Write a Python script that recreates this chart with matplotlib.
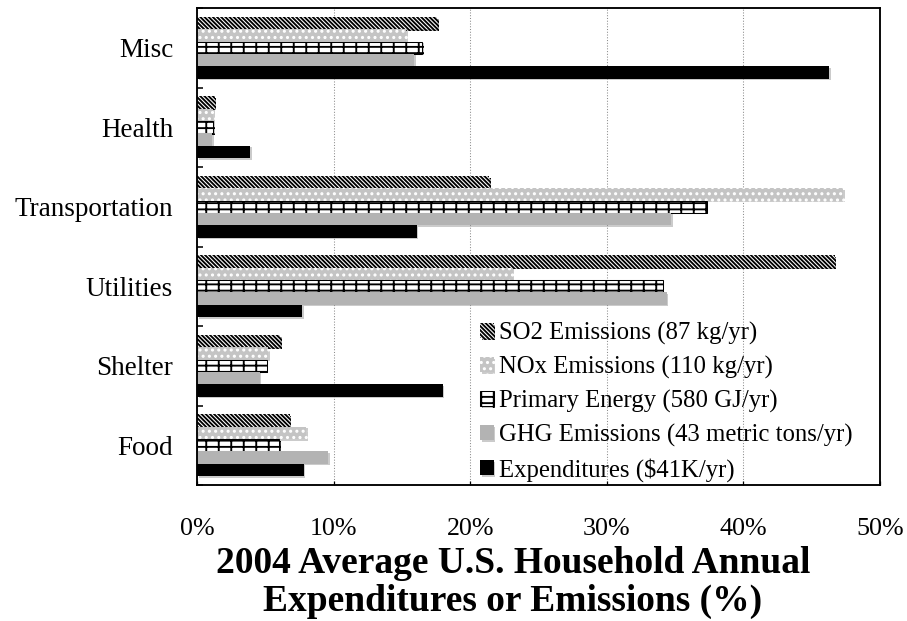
import numpy as np
import matplotlib
matplotlib.use('Agg')
import matplotlib.pyplot as plt
import matplotlib.patheffects as pe

plt.rcParams['font.family'] = 'Liberation Serif'
plt.rcParams['hatch.linewidth'] = 1.8

# categories listed bottom to top
categories = ['Food', 'Shelter', 'Utilities', 'Transportation', 'Health', 'Misc']
so2 = [6.8, 6.1, 46.7, 21.4, 1.3, 17.6]
nox = [8.0, 5.2, 23.1, 47.3, 1.2, 15.3]
energy = [6.0, 5.1, 34.1, 37.3, 1.2, 16.5]
ghg = [9.6, 4.6, 34.4, 34.7, 1.1, 15.9]
expend = [7.8, 18.0, 7.7, 16.1, 3.9, 46.3]

labels = ['SO2 Emissions (87 kg/yr)', 'NOx Emissions (110 kg/yr)',
          'Primary Energy (580 GJ/yr)', 'GHG Emissions (43 metric tons/yr)',
          'Expenditures ($41K/yr)']
xticks = [0, 10, 20, 30, 40, 50]

DPI = 75
fig = plt.figure(figsize=(907 / DPI, 621 / DPI), dpi=DPI)
ax = fig.add_axes([197 / 907, 1 - 485 / 621, (880 - 197) / 907, (485 - 8) / 621])

y = np.arange(len(categories))
h = 0.155
shadow = [pe.SimplePatchShadow(offset=(1.5, -1.5), shadow_rgbFace='#999999', alpha=0.5),
          pe.Normal()]

# top to bottom inside each group
styles = [
    (so2, dict(color='white', edgecolor='black', linewidth=0, hatch='\\' * 6)),
    (nox, dict(color='#c4c4c4', edgecolor='white', linewidth=0, hatch='..')),
    (energy, dict(color='white', edgecolor='black', linewidth=1, hatch='+-')),
    (ghg, dict(color='#b3b3b3', linewidth=0)),
    (expend, dict(color='black', linewidth=0)),
]
for i, (vals, kw) in enumerate(styles):
    bars = ax.barh(y + (2 - i) * h, vals, height=h, label=labels[i], **kw)
    for b in bars:
        b.set_path_effects(shadow)

ax.set_xlim(0, 50)
ax.set_ylim(-0.5, len(categories) - 0.5)
ax.set_xticks(xticks)
ax.set_xticklabels([f'{t}%' for t in xticks], fontsize=25)
ax.set_yticks(y)
ax.set_yticklabels(categories, fontsize=26)
ax.set_yticks(np.arange(len(categories) + 1) - 0.5, minor=True)
ax.tick_params(axis='y', which='major', length=0, pad=23)
ax.tick_params(axis='y', which='minor', direction='in', length=6, width=1.5)
ax.tick_params(axis='x', direction='in', length=4, width=1.2, pad=32)

ax.set_axisbelow(True)
ax.grid(axis='x', linestyle=':', color='#8c8c8c', linewidth=1)
for s in ax.spines.values():
    s.set_linewidth(1.8)

ax.legend(loc='upper left', bbox_to_anchor=(480 / 907, 1 - 322 / 621),
          bbox_transform=fig.transFigure, frameon=False, fontsize=23.8,
          handlelength=0.55, handleheight=0.55, handletextpad=0.2,
          labelspacing=0.44, borderpad=0, borderaxespad=0)

fig.text(513 / 907, 2 / 621,
         '2004 Average U.S. Household Annual\nExpenditures or Emissions (%)',
         ha='center', va='bottom', multialignment='center',
         fontsize=36, fontweight='bold', linespacing=1.12)

fig.savefig('out.png', dpi=DPI)
